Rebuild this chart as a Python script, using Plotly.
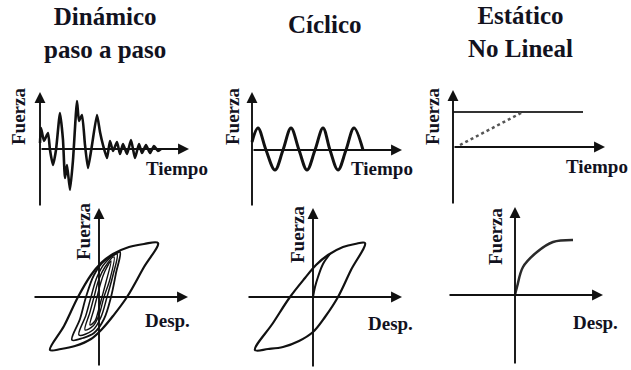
import plotly.graph_objects as go

W, H = 631, 370
INK = "#12121e"
PEN = "#111111"
SERIF = "Liberation Serif"

# ---- data (local units, origin at the axes crossing) ----
# dynamic step-by-step: force history
dyn_t = [0, 1, 4, 8, 10, 13, 16, 20, 23, 25, 27, 30, 33, 37, 39, 42, 45, 48, 52, 57, 60,
         63, 67, 70, 73, 77, 80, 83, 87, 91, 95, 99, 102, 106, 110, 114, 118, 121]
dyn_f = [6, 21, 8, 16, -1, -16, -1, 36, 9, -29, -16, -41, -11, 48, 28, 34, 4, -19, 4, 34, 17,
         4, -9, 8, -2, 7, -5, 5, -5, 9, -9, 5, -4, 4, -4, 3, -2, 0]

# cyclic: force history
cyc_t = [0, 6, 14, 23, 31, 39, 47, 55, 63, 71, 78, 86, 94, 102, 111]
cyc_f = [8, 22, 0, -20, 0, 22, 0, -20, 0, 22, 0, -20, 0, 22, 0]

# static nonlinear: applied load and ramp
stat_t = [0, 130]
stat_f = [35, 35]
ramp_t = [7, 70]
ramp_f = [2, 35]

# dynamic: hysteresis loops (displacement, force), outer to inner
dyn_loop1_d = [-49, -35, -21, -8, 2, 14, 30, 45, 59, 45, 28, 14, 4, -8, -24, -38, -49]
dyn_loop1_f = [-53, -29, 0, 22, 34, 43, 50, 53, 54, 30, 0, -19, -31, -42, -49, -52, -53]
dyn_loop2_d = [-27, -19, -13, -5, 5, 15, 21, 17, 12, 5, -5, -16, -27]
dyn_loop2_f = [-43, -22, 0, 22, 36, 42, 45, 24, 0, -22, -36, -41, -43]
dyn_loop3_d = [-20, -13, -8, -2, 6, 18, 14, 8, 2, -6, -20]
dyn_loop3_f = [-38, -18, 0, 20, 34, 43, 22, 0, -20, -33, -38]
dyn_loop4_d = [-14, -9, -5, 0, 6, 15, 11, 5, 0, -6, -14]
dyn_loop4_f = [-33, -15, 0, 18, 30, 40, 18, 0, -18, -29, -33]
dyn_loop5_d = [-9, -5, -2, 2, 6, 12, 7, 3, -1, -4, -9]
dyn_loop5_f = [-28, -12, 0, 15, 26, 36, 15, 0, -15, -24, -28]

# cyclic: hysteresis loop and first loading
cyc_loop_d = [-58, -40, -23, -8, 3, 15, 30, 42, 52, 38, 25, 12, 0, -14, -30, -45, -58]
cyc_loop_f = [-53, -26, 0, 19, 32, 42, 50, 53, 54, 27, 0, -20, -35, -44, -50, -52, -53]
cyc_init_d = [0, 2, 5, 10, 17]
cyc_init_f = [0, 10, 20, 33, 43]

# static nonlinear: capacity curve
push_d = [0, 2, 8, 22, 38, 58]
push_f = [0, 8, 28, 43, 53, 55]

titles = ["Dinámico<br>paso a paso", "Cíclico", "Estático<br>No Lineal"]

# ---- panel layout: origin in px, axis extents, label places ----
panels = [
    dict(ox=40, oy=149, h=(0, 149), v=(-58, 57), xlab="Tiempo", xpos=(137, -19), ypos=(-22, 32)),
    dict(ox=252, oy=150, h=(0, 150), v=(-57, 58), xlab="Tiempo", xpos=(130, -18), ypos=(-20, 33)),
    dict(ox=453, oy=147, h=(0, 152), v=(-58, 57), xlab="Tiempo", xpos=(144, -19), ypos=(-21, 30)),
    dict(ox=99, oy=297, h=(-66, 89), v=(-70, 89), xlab="Desp.", xpos=(68, -23), ypos=(-16, 65)),
    dict(ox=313, oy=297, h=(-66, 89), v=(-71, 89), xlab="Desp.", xpos=(77, -26), ypos=(-16, 62)),
    dict(ox=515, oy=295, h=(-67, 88), v=(-70, 88), xlab="Desp.", xpos=(80, -27), ypos=(-20, 58)),
]

fig = go.Figure()


def ax_names(i):
    s = "" if i == 0 else str(i + 1)
    return "x" + s, "y" + s


def add_line(i, x, y, width=2.5, color=PEN, dash=None, shape="spline", smoothing=1.0):
    xa, ya = ax_names(i)
    fig.add_trace(go.Scatter(
        x=x, y=y, xaxis=xa, yaxis=ya, mode="lines", hoverinfo="skip", showlegend=False,
        line=dict(color=color, width=width, dash=dash, shape=shape, smoothing=smoothing),
    ))


add_line(0, dyn_t, dyn_f, width=2.6, shape="spline", smoothing=0.5)
add_line(1, cyc_t, cyc_f, width=3)
add_line(2, stat_t, stat_f, width=2, color="#333333", shape="linear")
add_line(2, ramp_t, ramp_f, width=2.5, color="#555555", dash="dot", shape="linear")
add_line(3, dyn_loop1_d, dyn_loop1_f, width=2.2)
add_line(3, dyn_loop2_d, dyn_loop2_f, width=1.8)
add_line(3, dyn_loop3_d, dyn_loop3_f, width=1.5)
add_line(3, dyn_loop4_d, dyn_loop4_f, width=1.4)
add_line(3, dyn_loop5_d, dyn_loop5_f, width=1.4)
add_line(4, cyc_loop_d, cyc_loop_f, width=2.2)
add_line(4, cyc_init_d, cyc_init_f, width=2)
add_line(5, push_d, push_f, width=2.5, color="#2a2a2a")

annotations = []
label_font = dict(family=SERIF, size=19, color=INK, weight="bold")
for i, p in enumerate(panels):
    xa, ya = ax_names(i)
    arrow = dict(xref=xa, yref=ya, axref=xa, ayref=ya, text="", showarrow=True,
                 arrowhead=2, arrowsize=1.15, arrowwidth=1.9, arrowcolor=PEN, standoff=0)
    annotations.append(dict(arrow, x=p["h"][1], y=0, ax=p["h"][0], ay=0))
    annotations.append(dict(arrow, x=0, y=p["v"][1], ax=0, ay=p["v"][0]))
    annotations.append(dict(xref=xa, yref=ya, x=p["xpos"][0], y=p["xpos"][1], text=p["xlab"],
                            showarrow=False, font=label_font))
    annotations.append(dict(xref=xa, yref=ya, x=p["ypos"][0], y=p["ypos"][1], text="Fuerza",
                            textangle=-90, showarrow=False, font=label_font))

title_x = [105, 325, 520]
title_y = [33, 25, 32]
for t, tx, ty in zip(titles, title_x, title_y):
    annotations.append(dict(xref="paper", yref="paper", x=tx / W, y=1 - ty / H, text=t,
                            showarrow=False, xanchor="center", yanchor="middle",
                            font=dict(family=SERIF, size=25, color=INK, weight="bold")))

layout = dict(
    width=W, height=H, margin=dict(l=0, r=0, t=0, b=0),
    plot_bgcolor="rgba(0,0,0,0)", paper_bgcolor="white",
    annotations=annotations,
)
for i, p in enumerate(panels):
    s = "" if i == 0 else str(i + 1)
    layout["xaxis" + s] = dict(domain=[0, 1], range=[-p["ox"], W - p["ox"]], visible=False,
                               fixedrange=True, anchor="y" + s)
    layout["yaxis" + s] = dict(domain=[0, 1], range=[-(H - p["oy"]), p["oy"]], visible=False,
                               fixedrange=True, anchor="x" + s)
fig.update_layout(**layout)

# drop the browser's default page margin so the figure sits at the window corner
fig.write_html("out.html", config={"displayModeBar": False},
               post_script="document.body.style.margin='0';")
